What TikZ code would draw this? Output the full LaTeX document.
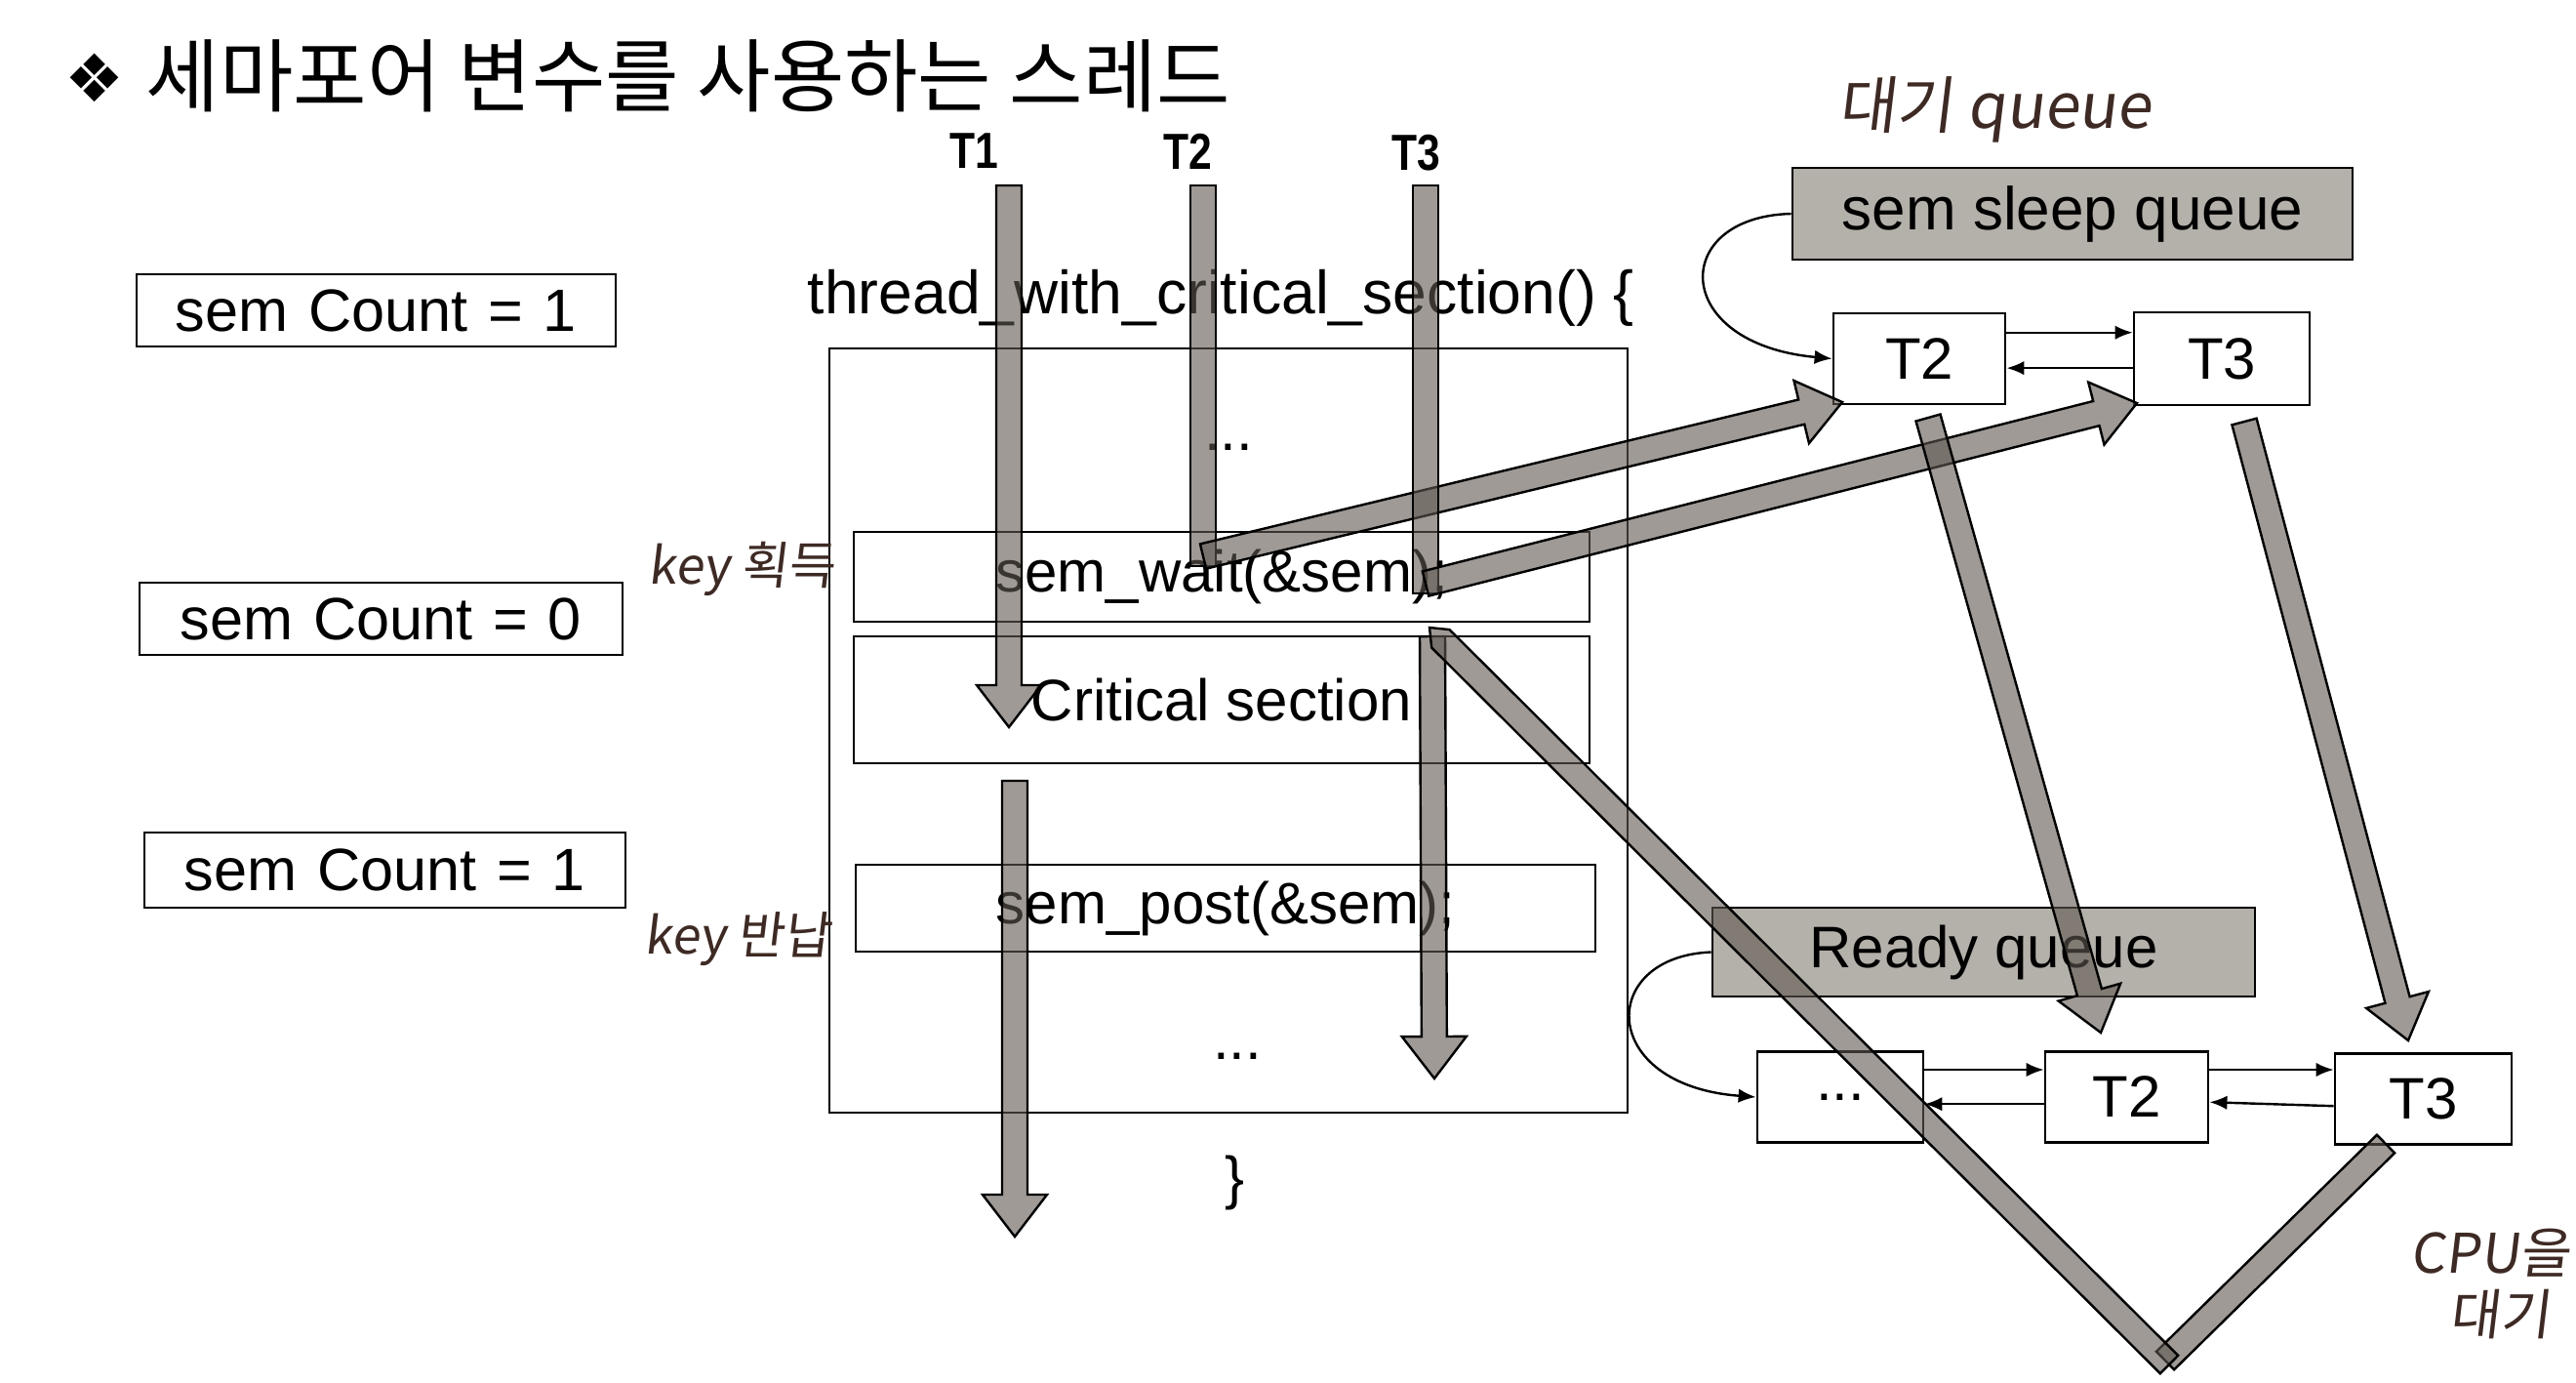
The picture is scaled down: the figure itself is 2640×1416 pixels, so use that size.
\documentclass[tikz,border=0pt]{standalone}
\usepackage{fontspec}
\setmainfont{Liberation Sans}
\newfontfamily\kr{Noto Sans CJK KR}
\newfontfamily\hand[FakeSlant=0.12]{Noto Sans CJK KR}
\newfontfamily\dejavu{DejaVu Sans}
\newfontfamily\tlabel[FakeStretch=0.82]{Liberation Sans}
\usetikzlibrary{calc,arrows.meta}
\definecolor{af}{RGB}{95,88,80}
\definecolor{qgray}{RGB}{180,176,170}
\definecolor{ink}{RGB}{62,42,36}
\def\fw{3.25pt}
\newcommand\wsp{\hspace{0.34em}}
\newcommand\fatgen[4]{%
  \coordinate (faH) at ($(#2)!#4!(#1)$);
  \filldraw[fat] ($(#1)!\fw!90:(#2)$) -- ($(faH)!\fw!-90:(#1)$) -- ($(faH)!#3!-90:(#1)$) -- (#2) -- ($(faH)!#3!90:(#1)$) -- ($(faH)!\fw!90:(#1)$) -- ($(#1)!\fw!-90:(#2)$) -- cycle;}
\newcommand\fatarrow[2]{\fatgen{#1}{#2}{8.25pt}{10.75pt}}
\newcommand\fatbar[2]{%
  \filldraw[fat] ($(#1)!\fw!90:(#2)$) -- ($(#2)!\fw!-90:(#1)$) -- ($(#2)!\fw!90:(#1)$) -- ($(#1)!\fw!-90:(#2)$) -- cycle;}
\begin{document}
\begin{tikzpicture}[x=0.25pt,y=-0.25pt,
  box/.style={draw, line width=0.7pt, inner sep=0pt},
  sz/.style 2 args={minimum width=#1*0.25pt, minimum height=#2*0.25pt},
  lbl/.style={font=\fontsize{15}{18}\selectfont},
  lblw/.style={font=\fontsize{15.3}{18}\selectfont},
  tl/.style={font=\tlabel\bfseries\fontsize{13}{15}\selectfont, inner sep=0pt},
  thin/.style={line width=0.6pt, -{Latex[length=4.5pt,width=3.6pt]}},
  fat/.style={fill=af, fill opacity=0.6, draw=black, draw opacity=1, line width=0.6pt, line join=miter},
  hw/.style={font=\hand\fontsize{12}{14}\selectfont, text=ink, inner sep=0pt},
]
\useasboundingbox (0,0) rectangle (2640,1416);
\clip (0,0) rectangle (2640,1416);
\fill[white] (0,0) rectangle (2640,1416);

% title
\node[font=\dejavu\fontsize{17}{20}\selectfont, inner sep=0pt] (dia) at (97,80) {❖};
\node[font=\kr\fontsize{20.5}{24}\selectfont, anchor=west, inner sep=0pt] (title) at (149,78) {세마포어 변수를 사용하는 스레드};

% thread labels
\node[tl] (lT1) at (998,155) {T1};
\node[tl] (lT2) at (1217,155) {T2};
\node[tl] (lT3) at (1451,157) {T3};

% semaphore counters
\node[box, sz={491}{74}, lblw] (cnt1) at (385.5,318) {sem\wsp Count\wsp =\wsp 1};
\node[box, sz={495}{74}, lblw] (cnt0) at (390.5,634) {sem\wsp Count\wsp =\wsp 0};
\node[box, sz={493}{77}, lblw] (cnt1b) at (394.5,891.5) {sem\wsp Count\wsp =\wsp 1};

% code
\node[font=\fontsize{15.6}{18}\selectfont, inner sep=0pt] (fname) at (1251,305) {thread\_with\_critical\_section() \{};
\node[box, sz={818}{783}] (code) at (1259,748.5) {};
\node[lbl, inner sep=0pt] (dots1) at (1259,458) {...};
\node[box, sz={754}{92}, lbl] (wait) at (1252,591) {sem\_wait(\&sem);};
\node[box, sz={754}{130}, lbl] (crit) at (1252,717) {Critical section};
\node[box, sz={758}{89}, lbl] (post) at (1256,930.5) {sem\_post(\&sem);};
\node[lbl, inner sep=0pt] (dots2) at (1268,1082) {...};
\node[lbl, inner sep=0pt] (close) at (1265,1212) {\}};

% sleep queue
\node[box, sz={574}{94}, fill=qgray, font=\fontsize{15.5}{18}\selectfont] (sleepq) at (2124,219) {sem sleep queue};
\node[box, sz={176}{93}, lbl] (sT2) at (1967,367.5) {T2};
\node[box, sz={180}{95}, lbl] (sT3) at (2277,367.5) {T3};
\draw[thin] ([yshift=6.7pt]sT2.east) -- ([yshift=6.7pt]sT3.west);
\draw[thin] ([yshift=-2.4pt]sT3.west) -- ([yshift=-2.4pt]sT2.east);
\draw[thin] (sleepq.west) .. controls (1711,222) and (1711,352) .. (sT2.west);

% ready queue
\node[box, sz={556}{91}, fill=qgray, lbl] (readyq) at (2033,975.5) {Ready queue};
\node[box, sz={170}{93}, lbl] (rdots) at (1886,1124) {...};
\node[box, sz={167}{93}, lbl] (rT2) at (2179.5,1124) {T2};
\node[box, sz={181}{93}, lbl] (rT3) at (2483.5,1126) {T3};
\draw[thin] ([yshift=7pt]rdots.east) -- ([yshift=7pt]rT2.west);
\draw[thin] ([yshift=-1.8pt]rT2.west) -- ([yshift=-1.8pt]rdots.east);
\draw[thin] ([yshift=7pt]rT2.east) -- ([yshift=7.5pt]rT3.west);
\draw[thin] ([yshift=-1.8pt]rT3.west) -- ([yshift=-1.3pt]rT2.east);
\draw[thin] (readyq.west) .. controls (1637,980) and (1637,1112) .. (rdots.west);

% handwritten notes
\node[hw, font=\hand\fontsize{16}{18}\selectfont] (n1) at (2045,112) {대기 queue};
\node[hw, font=\hand\fontsize{13}{15}\selectfont] (n2) at (760,583) {key 획득};
\node[hw, font=\hand\fontsize{13}{15}\selectfont] (n3) at (756,962) {key 반납};
\node[hw, anchor=west, font=\hand\fontsize{14}{16}\selectfont] (n4) at (2470,1284) {CPU을};
\node[hw, anchor=west, font=\hand\fontsize{14}{16}\selectfont] (n5) at (2510,1346) {대기};

% thread flow (fat arrows)
\coordinate (t1a) at (1034,190); \coordinate (t1b) at (1034,745);
\coordinate (t1c) at (1040,800); \coordinate (t1d) at (1040,1267);
\coordinate (t2a) at (1233,190); \coordinate (t2b) at (1233,580);
\coordinate (t2c) at (1233,570); \coordinate (t2d) at (1888,412);
\coordinate (t3a) at (1461,190); \coordinate (t3b) at (1461,608);
\coordinate (t3c) at (1461,598); \coordinate (t3d) at (2190,413);
\coordinate (t3e) at (1468,652); \coordinate (t3f) at (1470,1105);
\coordinate (s2a) at (1976,428); \coordinate (s2b) at (2153,1058);
\coordinate (s3a) at (2300,432); \coordinate (s3b) at (2468,1066);
\coordinate (v1) at (2445,1172); \coordinate (v2) at (2219,1394);
\coordinate (v3) at (2223,1398); \coordinate (v4) at (1465,643);

\fatarrow{t1a}{t1b}
\fatarrow{t1c}{t1d}
\fatbar{t2a}{t2b}
\fatarrow{t2c}{t2d}
\fatbar{t3a}{t3b}
\fatarrow{t3c}{t3d}
\fatarrow{t3e}{t3f}
\fatarrow{s2a}{s2b}
\fatarrow{s3a}{s3b}
\fatbar{v1}{v2}
\fatgen{v3}{v4}{\fw}{4pt}
\end{tikzpicture}
\end{document}
